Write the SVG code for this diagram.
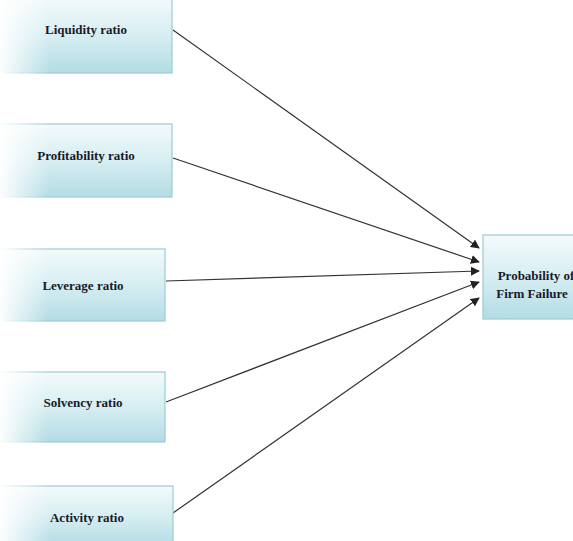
<svg xmlns="http://www.w3.org/2000/svg" width="573" height="541" viewBox="0 0 573 541">
<defs>
<linearGradient id="gv" x1="0" y1="0" x2="0" y2="1">
<stop offset="0" stop-color="#f3fafb"/>
<stop offset="0.5" stop-color="#d6eef2"/>
<stop offset="1" stop-color="#b3dce4"/>
</linearGradient>
<linearGradient id="gh" x1="0" y1="0" x2="1" y2="0">
<stop offset="0" stop-color="#ffffff" stop-opacity="1"/>
<stop offset="0.3" stop-color="#ffffff" stop-opacity="0"/>
</linearGradient>
<marker id="ah" viewBox="0 0 10 10" refX="9" refY="5" markerWidth="9" markerHeight="9" markerUnits="userSpaceOnUse" orient="auto">
<path d="M0,0 L10,5 L0,10 z" fill="#222"/>
</marker>
<style>
.box{fill:url(#gv);stroke:#9ccbd6;stroke-width:1.2}
.fade{fill:url(#gh)}
.lbl{font-family:"Liberation Serif","Times New Roman",serif;font-weight:bold;font-size:13px;fill:#1a1a2a;text-anchor:middle}
.con{stroke:#333;stroke-width:1.2;fill:none;marker-end:url(#ah)}
</style>
</defs>
<rect width="573" height="541" fill="#fff"/>
<g id="connectors">
<line class="con" x1="173" y1="30" x2="479" y2="248"/>
<line class="con" x1="173" y1="158" x2="479" y2="262"/>
<line class="con" x1="166" y1="281" x2="479" y2="271"/>
<line class="con" x1="166" y1="402" x2="479" y2="282"/>
<line class="con" x1="173" y1="513" x2="479" y2="298"/>
</g>
<g id="liquidity">
<rect class="box" x="-2" y="-2" width="174" height="75"/>
<rect class="fade" x="-2" y="-2" width="174" height="77"/>
<text class="lbl" x="86" y="34">Liquidity ratio</text>
</g>
<g id="profitability">
<rect class="box" x="-2" y="124" width="174" height="73"/>
<rect class="fade" x="-2" y="122" width="174" height="77"/>
<text class="lbl" x="86" y="160">Profitability ratio</text>
</g>
<g id="leverage">
<rect class="box" x="-2" y="249" width="167" height="72"/>
<rect class="fade" x="-2" y="247" width="167" height="76"/>
<text class="lbl" x="83" y="290">Leverage ratio</text>
</g>
<g id="solvency">
<rect class="box" x="-2" y="372" width="167" height="70"/>
<rect class="fade" x="-2" y="370" width="167" height="74"/>
<text class="lbl" x="83" y="407">Solvency ratio</text>
</g>
<g id="activity">
<rect class="box" x="-2" y="486" width="175" height="60"/>
<rect class="fade" x="-2" y="484" width="175" height="60"/>
<text class="lbl" x="87" y="522">Activity ratio</text>
</g>
<g id="target">
<rect class="box" x="483" y="235" width="95" height="84"/>
<text class="lbl" x="536" y="280">Probability of</text>
<text class="lbl" x="532" y="298">Firm Failure</text>
</g>
</svg>
